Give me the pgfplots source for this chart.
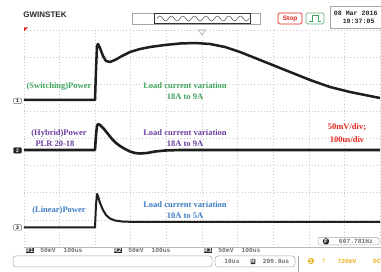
\documentclass[border=0pt]{standalone}
\usepackage{pgfplots}
\pgfplotsset{compat=1.18}
\usepackage{pgfplotstable}
\usepackage{fontspec}
\setmainfont{Liberation Serif}
\setsansfont{Liberation Sans}
\setmonofont{Liberation Mono}
\newfontfamily\dejavu{DejaVu Sans}
\definecolor{tr}{HTML}{1E1E1E}
\definecolor{sgreen}{HTML}{3FA45B}
\definecolor{hpurple}{HTML}{6B3FA0}
\definecolor{lblue}{HTML}{3C7DC4}
\definecolor{rred}{HTML}{E0241C}
\definecolor{gridc}{HTML}{C8C8C8}
\definecolor{uigray}{HTML}{707070}
\definecolor{yel}{HTML}{E6B422}

% traces in screen pixel coordinates (x right, y down)
\pgfplotstableread{
x y
24 100
95 100
96 70
97 46
98 44
100 48
103 56
106 61
110 62
115 60
122 56
130 52
140 49
150 47
165 45
180 43.5
195 43
210 44
225 47
240 52
250 56
270 64
290 72
310 80
330 87
350 92
370 96
380 98
}\switching

\pgfplotstableread{
x y
24 150
95 150
96 135
97 126
98 124
100 125
104 129
108 134
112 139
116 143
120 146
125 149
130 151.5
135 153
140 153.5
147 153
155 151.5
165 150.5
180 150
380 150
}\hybrid

\pgfplotstableread{
x y
24 227.5
95 227.5
96 205
97 194
98 196
100 203
103 210
106 215
110 218.5
115 220.5
122 221.5
135 222
380 222
}\linear

\begin{document}
\begin{tikzpicture}
\path[use as bounding box, fill=white] (0,0) rectangle (381pt,272pt);
\begin{axis}[
  at={(24pt,25pt)}, anchor=south west,
  width=356pt, height=217pt, scale only axis,
  xmin=24, xmax=380, ymin=30, ymax=247, y dir=reverse,
  axis line style={draw=none},
  xtick={24,59.6,95.2,130.8,166.4,202,237.6,273.2,308.8,344.4,380},
  ytick={30,57.125,84.25,111.375,138.5,165.625,192.75,219.875,247},
  xticklabels={}, yticklabels={},
  major tick length=0pt,
  grid=major,
  grid style={gridc, dash pattern=on 0.7pt off 2.5pt, line width=0.6pt},
  clip=false,
]
\addplot[tr, line width=2.5pt, line join=round] table {\switching};
\addplot[tr, line width=2.6pt, line join=round] table {\hybrid};
\addplot[tr, line width=2.0pt, line join=round] table {\linear};
\end{axis}

\begin{scope}[yshift=272pt, x=1pt, y=-1pt]
% bottom graticule line
\draw[gray!55, line width=0.5pt] (24,247) -- (381,247);
% header
\node[font=\sffamily\bfseries\fontsize{8}{9}\selectfont, text=black!85] at (45,15) {GWINSTEK};
\draw[gray!70, line width=0.5pt] (132,13) rectangle (260,24);
\draw[gray!40!black, line width=0.9pt] (154,13.5) rectangle (250,23.5);
\foreach \i in {0,...,7}{
  \draw[gray!55!black, line width=0.5pt] ({157+11.5*\i},18.5) sin ++(2.875,-2.5) cos ++(2.875,2.5) sin ++(2.875,2.5) cos ++(2.875,-2.5);
}
\draw[rred, line width=0.7pt, rounded corners=1.5pt] (278,13) rectangle (302,24);
\node[font=\sffamily\bfseries\fontsize{6.5}{7}\selectfont, text=rred] at (290,18.5) {Stop};
\draw[sgreen!80, line width=0.7pt, rounded corners=1.5pt] (306,13) rectangle (324,24);
\draw[sgreen, line width=0.6pt] (309,21) -- (312,21) -- (312,15.5) -- (318,15.5) -- (318,21) -- (321,21);
\draw[gray!70, line width=0.5pt] (330,6) rectangle (383,28);
\node[font=\ttfamily\bfseries\fontsize{6.6}{7}\selectfont, anchor=east, text=black!85] at (381,13.5) {08 Mar 2016};
\node[font=\ttfamily\bfseries\fontsize{6.6}{7}\selectfont, anchor=east, text=black!85] at (378,21.5) {19:37:05};
% top markers
\fill[rred] (24,27.5) -- (28,27.5) -- (24,31.5) -- cycle;
\draw[gray!70, line width=0.5pt] (198.5,30) -- (205.5,30) -- (202,35) -- cycle;
% channel markers
\node[draw=uigray, fill=white, line width=0.5pt, font=\sffamily\bfseries\fontsize{5}{5}\selectfont, inner sep=0pt, minimum width=8pt, minimum height=5.5pt, rounded corners=1pt] at (17.5,101) {1};
\node[draw=black!85, fill=black!85, text=white, font=\sffamily\bfseries\fontsize{5}{5}\selectfont, inner sep=0pt, minimum width=8pt, minimum height=5.5pt, rounded corners=1pt] at (17.5,150.5) {2};
\node[draw=uigray, fill=white, line width=0.5pt, font=\sffamily\bfseries\fontsize{5}{5}\selectfont, inner sep=0pt, minimum width=8pt, minimum height=5.5pt, rounded corners=1pt] at (17.5,227.5) {3};
% annotations
\begin{scope}[every node/.style={font=\bfseries\fontsize{8.5}{9.5}\selectfont, inner sep=0.5pt}]
\node[text=sgreen] at (59,86) {(Switching)Power};
\node[text=sgreen] at (185,86) {Load current variation};
\node[text=sgreen] at (185,97) {18A to 9A};
\node[text=hpurple] at (59,133) {(Hybrid)Power};
\node[text=hpurple] at (55,144) {PLR 20-18};
\node[text=hpurple] at (185,133) {Load current variation};
\node[text=hpurple] at (185,144) {18A to 9A};
\node[text=rred, fill=white] at (347,127.5) {50mV/div;};
\node[text=rred, fill=white] at (347,140) {100us/div};
\node[text=lblue] at (59,210) {(Linear)Power};
\node[text=lblue] at (185,205) {Load current variation};
\node[text=lblue] at (185,216) {10A to 5A};
\end{scope}
% bottom status
\begin{scope}[every node/.style={font=\ttfamily\bfseries\fontsize{6.3}{7}\selectfont, inner sep=0.6pt}]
\node[fill=black!85, text=white] at (30,250.5) {R1};
\node[text=uigray] at (48,250.5) {50mV};
\node[text=uigray] at (73,250.5) {100us};
\node[fill=black!85, text=white] at (118,250.5) {R2};
\node[text=uigray] at (136,250.5) {50mV};
\node[text=uigray] at (161,250.5) {100us};
\node[fill=black!85, text=white] at (208,250.5) {R3};
\node[text=uigray] at (226,250.5) {50mV};
\node[text=uigray] at (251,250.5) {100us};
\draw[gray!70, line width=0.5pt, rounded corners=2pt] (318,237.5) rectangle (379,245);
\node[circle, fill=black!85, text=white, inner sep=0.3pt] at (326,241.3) {F};
\node[text=uigray] at (356,241.3) {607.781Hz};
\draw[gray!70, line width=0.5pt, rounded corners=3pt] (13,256) rectangle (212,267);
\draw[gray!70, line width=0.5pt, rounded corners=3pt] (215,256) rectangle (295,267);
\node[text=uigray] at (232,261.5) {10us};
\node[fill=black!85, text=white, rounded corners=1pt] at (253,261.5) {H};
\node[text=uigray] at (276,261.5) {299.8us};
\draw[gray!70, line width=0.5pt] (298,256) -- (298,272);
\node[circle, fill=yel, text=white, inner sep=0.2pt] at (311,261) {1};
\node[text=yel, font=\dejavu\fontsize{6}{6}\selectfont] at (324,261) {↑};
\node[text=yel] at (347,261) {720mV};
\node[text=yel] at (377,261) {DC};
\end{scope}
\end{scope}
\end{tikzpicture}
\end{document}
